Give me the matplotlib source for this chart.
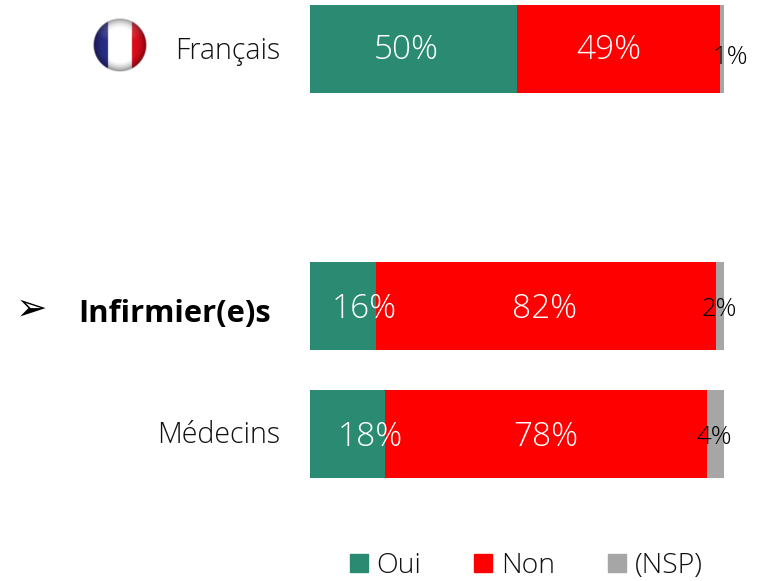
"""Oui / Non / (NSP) stacked bars, static export."""

import matplotlib

matplotlib.use("Agg")
import matplotlib.pyplot as plt
import numpy as np
from matplotlib.patches import Patch

categories = ["Français", "Infirmier(e)s", "Médecins"]
rows = [0, 2, 3]
oui = [50, 16, 18]
non = [49, 82, 78]
nsp = [1, 2, 4]
series_names = ["Oui", "Non", "(NSP)"]

GREEN = "#2A8B72"
RED = "#FF0000"
GREY = "#A6A6A6"
W, H = 761, 581
ROW_PX = 128.4


def draw_flag(ax, cx, cy, r):
    # shaded round flag, drawn on the pixel overlay
    n = 140
    xs, ys = np.meshgrid(np.linspace(-1, 1, n), np.linspace(-1, 1, n))
    d = np.hypot(xs, ys)
    img = np.ones((n, n, 4))
    img[xs < -0.44, :3] = (0.16, 0.17, 0.52)
    img[xs > 0.44, :3] = (0.86, 0.04, 0.10)
    shade = np.clip(1.1 - 0.6 * d**4, 0, 1)[..., None]
    img[..., :3] *= shade
    gloss = np.clip(1 - np.hypot(xs, (ys + 0.6) * 1.9), 0, 1)[..., None] * 0.3
    img[..., :3] = img[..., :3] * (1 - gloss) + gloss
    img[..., 3] = np.clip((1 - d) * 25, 0, 1)
    ax.imshow(img, extent=(cx - r, cx + r, cy + r, cy - r), interpolation="bilinear", zorder=2)


plt.rcParams["font.family"] = ["Open Sans", "DejaVu Sans"]
fig = plt.figure(figsize=(W / 100, H / 100), dpi=100)

ax = fig.add_axes([310 / W, 0, 414 / W, 1])
ax.set_xlim(0, 100)
ax.set_ylim((581 - 49) / ROW_PX, -49 / ROW_PX)
ax.axis("off")

bar_h = 88 / ROW_PX
left_non = [a for a in oui]
left_nsp = [a + b for a, b in zip(oui, non)]
ax.barh(rows, oui, height=bar_h, color=GREEN, linewidth=0)
ax.barh(rows, non, left=left_non, height=bar_h, color=RED, linewidth=0)
ax.barh(rows, nsp, left=left_nsp, height=bar_h, color=GREY, linewidth=0)

# labels sit off centre in the source, pixel centres of each label
oui_px = [406, 364, 370]
non_px = [609, 545, 546]
nsp_px = [730, 719, 714]
text_y = [50, 309, 437]
nsp_y = [58, 309, 438]

over = fig.add_axes([0, 0, 1, 1])
over.set_xlim(0, W)
over.set_ylim(H, 0)
over.axis("off")
over.patch.set_alpha(0)

for i in range(3):
    over.text(oui_px[i], text_y[i], f"{oui[i]}%", color="white", fontsize=24, fontweight="light",
              ha="center", va="center")
    over.text(non_px[i], text_y[i], f"{non[i]}%", color="white", fontsize=24, fontweight="light",
              ha="center", va="center")
    over.text(nsp_px[i], nsp_y[i], f"{nsp[i]}%", color="black", fontsize=18.5, fontweight="light",
              ha="center", va="center")

over.text(280, 51, categories[0], fontsize=20.6, fontweight="light", color="#111111", ha="right", va="center")
over.text(280, 435, categories[2], fontsize=20.6, fontweight="light", color="#111111", ha="right", va="center")
over.text(78, 314, categories[1], fontsize=22.2, fontweight="bold", color="black", ha="left", va="center")
over.text(32, 310, "➢", fontsize=27, family="DejaVu Sans", color="black", ha="center", va="center")

draw_flag(over, 120, 45, 27)
over.set_xlim(0, W)
over.set_ylim(H, 0)
over.set_aspect("auto")

handles = [Patch(color=GREEN), Patch(color=RED), Patch(color=GREY)]
leg = over.legend(
    handles,
    series_names,
    loc="center left",
    bbox_to_anchor=(324 / W, 1 - 566 / H),
    ncol=3,
    frameon=False,
    fontsize=20.5,
    handlelength=0.63,
    handleheight=0.63,
    handletextpad=0.3,
    columnspacing=1.88,
    labelcolor="#111111",
)
for t in leg.get_texts():
    t.set_fontweight("light")

fig.savefig("out.png", dpi=100)
